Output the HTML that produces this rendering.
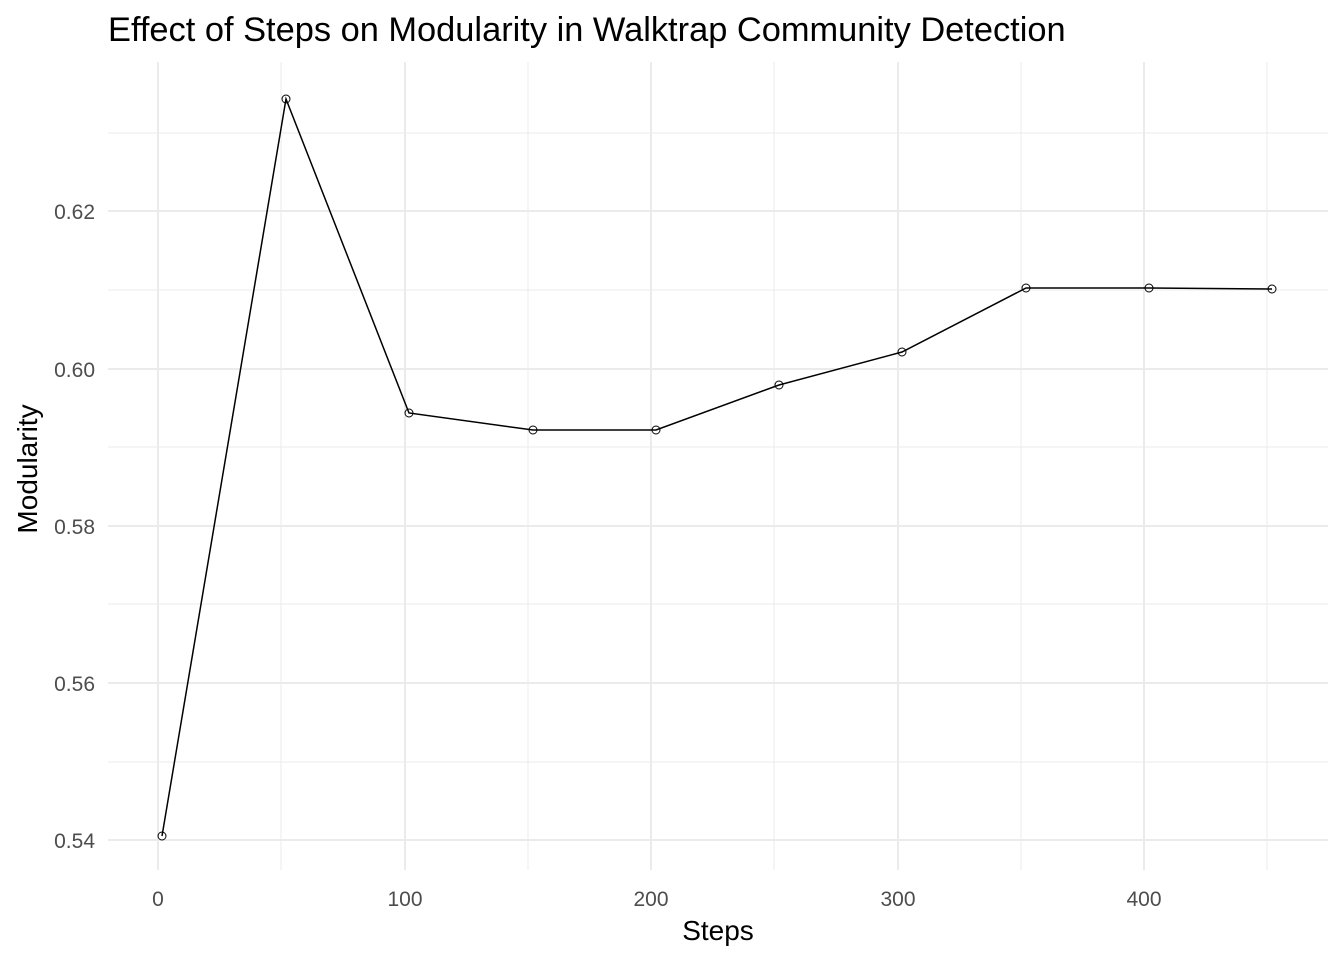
<!DOCTYPE html>
<html><head><style>body{margin:0;background:#fff}</style></head><body>
<svg width="1344" height="960" xmlns="http://www.w3.org/2000/svg" font-family="Liberation Sans, Arial, sans-serif">
<rect width="1344" height="960" fill="#fff"/>
<g stroke="#ebebeb" stroke-width="1">
<line x1="108" x2="1328" y1="762" y2="762"/><line x1="108" x2="1328" y1="604" y2="604"/><line x1="108" x2="1328" y1="447" y2="447"/><line x1="108" x2="1328" y1="290" y2="290"/><line x1="108" x2="1328" y1="133" y2="133"/>
<line y1="62" y2="870" x1="281" x2="281"/><line y1="62" y2="870" x1="528" x2="528"/><line y1="62" y2="870" x1="774" x2="774"/><line y1="62" y2="870" x1="1021" x2="1021"/><line y1="62" y2="870" x1="1267" x2="1267"/>
</g>
<g stroke="#ebebeb" stroke-width="2">
<line x1="108" x2="1328" y1="840" y2="840"/><line x1="108" x2="1328" y1="683" y2="683"/><line x1="108" x2="1328" y1="526" y2="526"/><line x1="108" x2="1328" y1="369" y2="369"/><line x1="108" x2="1328" y1="211" y2="211"/>
<line y1="62" y2="870" x1="158" x2="158"/><line y1="62" y2="870" x1="405" x2="405"/><line y1="62" y2="870" x1="651" x2="651"/><line y1="62" y2="870" x1="898" x2="898"/><line y1="62" y2="870" x1="1144" x2="1144"/>
</g>
<polyline fill="none" stroke="#000" stroke-width="1.5" points="162,836 286,99 409,413 533,430 656,430 779,385 902,352 1026,288 1149,288 1272,289"/>
<g fill="none" stroke="#000" stroke-width="1">
<circle cx="162" cy="836" r="4"/><circle cx="286" cy="99" r="4"/><circle cx="409" cy="413" r="4"/><circle cx="533" cy="430" r="4"/><circle cx="656" cy="430" r="4"/><circle cx="779" cy="385" r="4"/><circle cx="902" cy="352" r="4"/><circle cx="1026" cy="288" r="4"/><circle cx="1149" cy="288" r="4"/><circle cx="1272" cy="289" r="4"/>
</g>
<g fill="#4d4d4d" font-size="21" text-anchor="end">
<text x="95" y="848">0.54</text><text x="95" y="691">0.56</text><text x="95" y="534">0.58</text><text x="95" y="377">0.60</text><text x="95" y="219">0.62</text>
</g>
<g fill="#4d4d4d" font-size="21" text-anchor="middle">
<text x="158" y="906">0</text><text x="405" y="906">100</text><text x="651" y="906">200</text><text x="898" y="906">300</text><text x="1144" y="906">400</text>
</g>
<text x="718" y="940" font-size="28" text-anchor="middle">Steps</text>
<text transform="translate(37,469) rotate(-90)" font-size="28" text-anchor="middle">Modularity</text>
<text x="108" y="41" font-size="34.4">Effect of Steps on Modularity in Walktrap Community Detection</text>
</svg>
</body></html>
